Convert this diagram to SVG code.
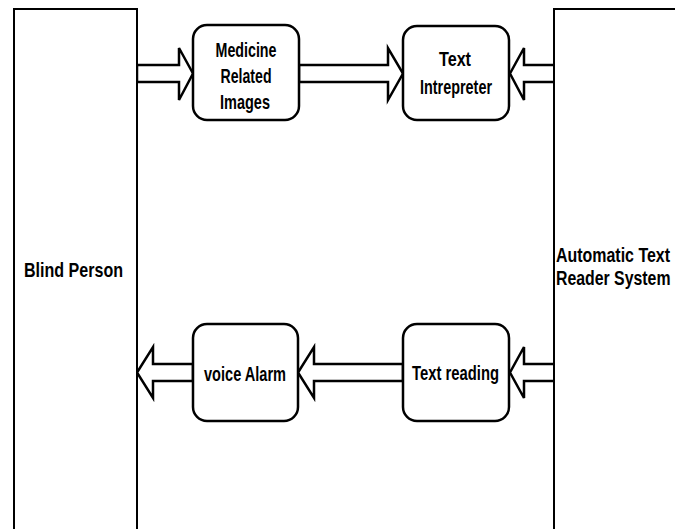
<svg xmlns="http://www.w3.org/2000/svg" width="675" height="529" viewBox="0 0 675 529">
<style>
.big{fill:#fff;stroke:#000;stroke-width:2}
.node{fill:#fff;stroke:#000;stroke-width:2.5}
.arr{fill:#fff;stroke:#000;stroke-width:2.5;stroke-linejoin:miter}
text{font-family:"Liberation Sans",Arial,sans-serif;font-size:21px;font-weight:bold;fill:#000}
.c{text-anchor:middle}
</style>
<rect width="675" height="529" fill="#fff"/>
<g id="connectors">
<polygon class="arr" points="137,65 179,65 179,48 193,73.5 179,100 179,82 137,82"/>
<polygon class="arr" points="299,65 388,65 388,48 403,73.5 388,100 388,82 299,82"/>
<polygon class="arr" points="555,65 524,65 524,48 510,73.5 524,100 524,82 555,82"/>
<polygon class="arr" points="555,364 524,364 524,347 510,372.5 524,398 524,381 555,381"/>
<polygon class="arr" points="403,364 314,364 314,347 298,372.5 314,398 314,381 403,381"/>
<polygon class="arr" points="193,364 153,364 153,347 137,372.5 153,398 153,381 193,381"/>
</g>
<g id="blind-person">
<rect class="big" x="14" y="9" width="123" height="540"/>
<text x="24" y="277" textLength="99" lengthAdjust="spacingAndGlyphs">Blind Person</text>
</g>
<g id="automatic-text-reader-system">
<rect class="big" x="554" y="9" width="140" height="540"/>
<text transform="translate(556,262) scale(0.76,1)">Automatic Text</text>
<text transform="translate(556,285) scale(0.755,1)">Reader System</text>
</g>
<g id="medicine-related-images">
<rect class="node" x="193" y="25" width="106" height="95" rx="14" ry="14"/>
<text class="c" x="246" y="57" textLength="61" lengthAdjust="spacingAndGlyphs">Medicine</text>
<text class="c" x="246" y="83" textLength="51" lengthAdjust="spacingAndGlyphs">Related</text>
<text class="c" x="245" y="109" textLength="50" lengthAdjust="spacingAndGlyphs">Images</text>
</g>
<g id="text-intrepreter">
<rect class="node" x="403" y="26" width="106" height="94" rx="14" ry="14"/>
<text class="c" x="455" y="66" textLength="32" lengthAdjust="spacingAndGlyphs">Text</text>
<text class="c" x="456" y="94" textLength="72" lengthAdjust="spacingAndGlyphs">Intrepreter</text>
</g>
<g id="voice-alarm">
<rect class="node" x="193" y="324" width="105" height="97" rx="14" ry="14"/>
<text class="c" x="245" y="381" textLength="82" lengthAdjust="spacingAndGlyphs">voice Alarm</text>
</g>
<g id="text-reading">
<rect class="node" x="403" y="324" width="106" height="97" rx="14" ry="14"/>
<text class="c" x="455.5" y="380" textLength="87" lengthAdjust="spacingAndGlyphs">Text reading</text>
</g>
</svg>
